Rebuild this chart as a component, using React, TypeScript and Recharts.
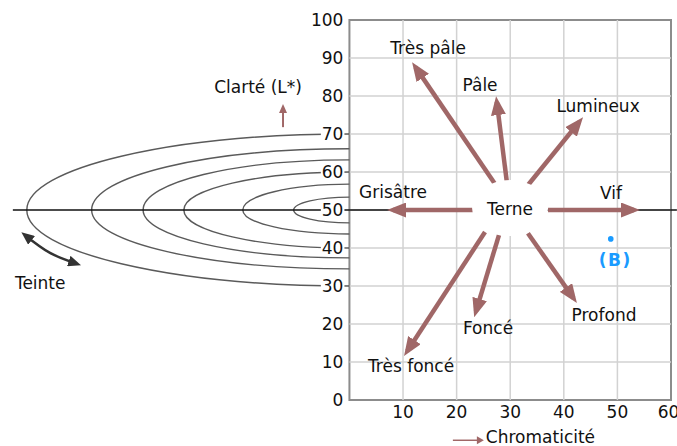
import React from "react";
import { LineChart, Line, XAxis, YAxis, ReferenceLine, ReferenceArea, ReferenceDot } from "recharts";

const xTicks = [10, 20, 30, 40, 50, 60];
const yTicks = [0, 10, 20, 30, 40, 50, 60, 70, 80, 90, 100];
const gridL = [10, 20, 30, 40, 50, 60, 70, 80, 90];
const gridC = [10, 20, 30, 40, 50];

// hue rings on the left: where each ring turns (chroma) and its top / bottom lightness
const ringVertexC = [-60.2, -48.1, -38.5, -30.9, -19.9, -10.4];
const ringTopL = [70, 66.1, 63.2, 60, 56.8, 53.4];
const ringBottomL = [30, 34.5, 37.4, 40, 43.7, 46.6];

// arrows leaving "Terne"
const arrowNames = ["Grisâtre", "Vif", "Très pâle", "Pâle", "Lumineux", "Très foncé", "Foncé", "Profond"];
const arrowFromC = [23.25, 37.06, 27.17, 29.37, 33.33, 25.3, 27.9, 33.3];
const arrowFromL = [50, 50, 56.84, 57.37, 56.58, 44.2, 43.4, 43.9];
const arrowToC = [8.14, 53.1, 12.32, 27.5, 42.88, 10.8, 23.6, 41.8];
const arrowToL = [50, 50, 87.6, 78.4, 73.2, 12.9, 23.3, 26.8];

const labelTexts = ["Très pâle", "Pâle", "Lumineux", "Grisâtre", "Vif", "Terne", "Foncé", "Très foncé", "Profond", "Clarté (L*)", "Teinte"];
const labelC = [14.67, 24.37, 46.39, 8.14, 48.8, 29.96, 25.86, 11.5, 47.5, -17.05, -57.7];
const labelL = [92.6, 82.9, 77.4, 54.7, 54.5, 50.3, 18.9, 8.9, 22.4, 82.4, 30.8];

// hue arrow (curved, two heads)
const hueArrowC = [-60.48, -55.87, -50.96];
const hueArrowL = [43.3, 38.7, 35.9];

// lightness arrow next to "Clarté (L*)"
const lightArrowC = [-12.39, -12.39];
const lightArrowL = [71.8, 77.1];

const sampleB = { c: 48.76, l: 42.4, labelL: 36.8, name: "(B)" };
const chromaCaption = { c: 19.3, l: -10.6, text: "Chromaticité" };

const BROWN = "#a06767";
const FONT = "DejaVu Sans";

// draws a half ellipse through (top, vertex, bottom)
function halfEllipse(context: any) {
  let pts: number[][] = [];
  return {
    areaStart() {},
    areaEnd() {},
    lineStart() {
      pts = [];
    },
    point(x: number, y: number) {
      pts.push([+x, +y]);
    },
    lineEnd() {
      if (pts.length < 3) return;
      const k = 0.5523;
      const [[x0, y0], [x1, y1], [x2, y2]] = pts;
      context.moveTo(x0, y0);
      context.bezierCurveTo(x0 + k * (x1 - x0), y0, x1, y1 + k * (y0 - y1), x1, y1);
      context.bezierCurveTo(x1, y1 + k * (y2 - y1), x2 + k * (x1 - x2), y2, x2, y2);
    },
  };
}

const rings = ringVertexC.map((v, i) => [
  { c: 0, l: ringTopL[i] },
  { c: v, l: 50 },
  { c: 0, l: ringBottomL[i] },
]);

const arrows = arrowNames.map((name, i) => ({
  name,
  data: [
    { c: arrowFromC[i], l: arrowFromL[i] },
    { c: arrowToC[i], l: arrowToL[i] },
  ],
}));

const hueArrow = hueArrowC.map((c, i) => ({ c, l: hueArrowL[i] }));
const lightArrow = lightArrowC.map((c, i) => ({ c, l: lightArrowL[i] }));

export default function App() {
  return (
    <div style={{ position: "absolute", left: 0, top: 0, width: 677, height: 446, background: "#fff", fontFamily: FONT }}>
      <svg width={0} height={0} style={{ position: "absolute" }}>
        <defs>
          <marker id="brownHead" markerUnits="userSpaceOnUse" markerWidth={19} markerHeight={15} refX={13} refY={7.5} orient="auto">
            <path d="M0,0 L19,7.5 L0,15 z" fill={BROWN} />
          </marker>
          <marker id="smallBrownHead" markerUnits="userSpaceOnUse" markerWidth={9} markerHeight={8} refX={6} refY={4} orient="auto">
            <path d="M0,0 L9,4 L0,8 z" fill={BROWN} />
          </marker>
          <marker id="darkHead" markerUnits="userSpaceOnUse" markerWidth={13} markerHeight={11} refX={8} refY={5.5} orient="auto-start-reverse">
            <path d="M0,0 L13,5.5 L0,11 z" fill="#333" />
          </marker>
        </defs>
      </svg>
      <LineChart width={677} height={446} margin={{ top: 20, right: 6, left: 0, bottom: 0 }}>
        <XAxis
          type="number"
          dataKey="c"
          domain={[-65.2, 60]}
          allowDataOverflow
          ticks={xTicks}
          axisLine={false}
          tickLine={false}
          tickSize={6}
          tickMargin={0}
          height={46}
          tick={{ fill: "#111", fontSize: 17, fontFamily: FONT }}
        />
        <YAxis type="number" dataKey="l" domain={[0, 100]} allowDataOverflow hide width={0} />

        {gridC.map((c) => (
          <ReferenceLine key={"gc" + c} segment={[{ x: c, y: 0 }, { x: c, y: 100 }]} stroke="#d2d2d2" strokeWidth={1.5} />
        ))}
        {gridL.map((l) => (
          <ReferenceLine key={"gl" + l} segment={[{ x: 0, y: l }, { x: 60, y: l }]} stroke="#d2d2d2" strokeWidth={1.5} />
        ))}
        <ReferenceArea x1={0} x2={60} y1={0} y2={100} fill="none" fillOpacity={0} stroke="#8c8c8c" strokeWidth={2} />

        {rings.map((d, i) => (
          <Line
            key={"ring" + i}
            data={d}
            dataKey="l"
            type={halfEllipse as any}
            stroke="#5a5a5a"
            strokeWidth={1.4}
            dot={false}
            activeDot={false}
            isAnimationActive={false}
          />
        ))}

        <ReferenceLine segment={[{ x: -62.8, y: 50 }, { x: 61.1, y: 50 }]} stroke="#111" strokeWidth={1.5} ifOverflow="visible" />

        <ReferenceDot
          x={29.97}
          y={50.5}
          r={0}
          ifOverflow="visible"
          shape={(p: any) => <ellipse cx={p.cx} cy={p.cy} rx={38} ry={28} fill="#fff" />}
        />

        {arrows.map((a) => (
          <Line
            key={a.name}
            data={a.data}
            dataKey="l"
            type="linear"
            stroke={BROWN}
            strokeWidth={4.5}
            markerEnd="url(#brownHead)"
            dot={false}
            activeDot={false}
            isAnimationActive={false}
          />
        ))}

        <Line
          data={hueArrow}
          dataKey="l"
          type="natural"
          stroke="#333"
          strokeWidth={2.5}
          markerStart="url(#darkHead)"
          markerEnd="url(#darkHead)"
          dot={false}
          activeDot={false}
          isAnimationActive={false}
        />
        <Line
          data={lightArrow}
          dataKey="l"
          type="linear"
          stroke={BROWN}
          strokeWidth={2}
          markerEnd="url(#smallBrownHead)"
          dot={false}
          activeDot={false}
          isAnimationActive={false}
        />

        {yTicks.map((v) => (
          <ReferenceDot
            key={"yt" + v}
            x={0}
            y={v}
            r={0}
            ifOverflow="visible"
            shape={(p: any) => {
              const w = String(v).length * 10.8;
              return (
                <g>
                  <rect x={p.cx - 7 - w} y={p.cy - 8} width={w + 2} height={16} fill="#fff" />
                  <text x={p.cx - 6} y={p.cy} textAnchor="end" dominantBaseline="central" fontSize={17} fill="#111" fontFamily={FONT}>
                    {v}
                  </text>
                </g>
              );
            }}
          />
        ))}

        {labelTexts.map((t, i) => (
          <ReferenceDot
            key={"lb" + t}
            x={labelC[i]}
            y={labelL[i]}
            r={0}
            ifOverflow="visible"
            shape={(p: any) => (
              <text x={p.cx} y={p.cy} textAnchor="middle" dominantBaseline="central" fontSize={17} fill="#111" fontFamily={FONT}>
                {t}
              </text>
            )}
          />
        ))}

        <ReferenceDot x={sampleB.c} y={sampleB.l} r={2.8} fill="#1a9bff" stroke="none" ifOverflow="visible" />
        <ReferenceDot
          x={sampleB.c + 0.85}
          y={sampleB.labelL}
          r={0}
          ifOverflow="visible"
          shape={(p: any) => (
            <text x={p.cx} y={p.cy} textAnchor="middle" dominantBaseline="central" fontSize={17} fontWeight="bold" letterSpacing={1.5} fill="#1a9bff" fontFamily={FONT}>
              {sampleB.name}
            </text>
          )}
        />

        <ReferenceDot
          x={chromaCaption.c}
          y={chromaCaption.l}
          r={0}
          ifOverflow="visible"
          shape={(p: any) => (
            <g>
              <line x1={p.cx} y1={p.cy} x2={p.cx + 26} y2={p.cy} stroke={BROWN} strokeWidth={1.5} />
              <path d={`M${p.cx + 24},${p.cy - 4} L${p.cx + 31},${p.cy} L${p.cx + 24},${p.cy + 4} z`} fill={BROWN} />
              <text x={p.cx + 33} y={p.cy - 3} dominantBaseline="central" fontSize={17} fill="#111" fontFamily={FONT}>
                {chromaCaption.text}
              </text>
            </g>
          )}
        />
      </LineChart>
    </div>
  );
}
